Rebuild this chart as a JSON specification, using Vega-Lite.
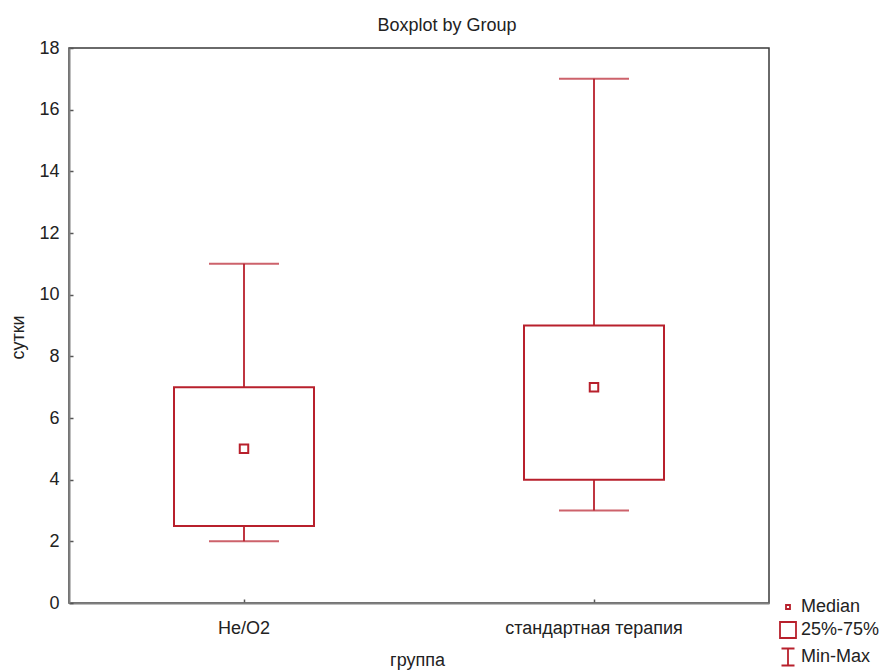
{
  "$schema": "https://vega.github.io/schema/vega-lite/v6.json",
  "autosize": {"type": "none"},
  "width": 700,
  "height": 555,
  "padding": {"left": 69, "top": 48, "right": 118, "bottom": 68},
  "background": "white",
  "title": {
    "text": "Boxplot by Group",
    "anchor": "middle",
    "frame": "group",
    "dx": 28,
    "offset": 4,
    "fontSize": 18,
    "fontWeight": "normal",
    "font": "Liberation Sans",
    "color": "#222222"
  },
  "config": {
    "font": "Liberation Sans",
    "view": {"stroke": "#3a3a3a", "strokeWidth": 1.5},
    "axis": {
      "labelFont": "Liberation Sans",
      "titleFont": "Liberation Sans",
      "labelFontSize": 18,
      "titleFontSize": 18,
      "titleFontWeight": "normal",
      "labelColor": "#222222",
      "titleColor": "#222222",
      "domainColor": "#7f7f7f",
      "domainWidth": 2,
      "tickColor": "#555555",
      "tickSize": -4,
      "tickWidth": 1.5,
      "grid": false
    },
    "legend": {
      "labelFont": "Liberation Sans",
      "labelFontSize": 18,
      "labelColor": "#222222"
    }
  },
  "data": {
    "values": [
      {"group": "He/O2", "min": 2, "q1": 2.5, "median": 5, "q3": 7, "max": 11},
      {"group": "стандартная терапия", "min": 3, "q1": 4, "median": 7, "q3": 9, "max": 17}
    ]
  },
  "encoding": {
    "x": {
      "field": "group",
      "type": "nominal",
      "sort": ["He/O2", "стандартная терапия"],
      "scale": {"paddingInner": 0, "paddingOuter": 0},
      "axis": {
        "title": "группа",
        "labelAngle": 0,
        "labelPadding": 20,
        "titleX": 348,
        "titleY": 57,
        "titleBaseline": "middle"
      }
    }
  },
  "layer": [
    {
      "mark": {"type": "rule", "color": "#b8202c", "strokeWidth": 1.8},
      "encoding": {
        "y": {
          "field": "q3",
          "type": "quantitative",
          "scale": {"domain": [0, 18], "nice": false},
          "axis": {
            "title": "сутки",
            "values": [0, 2, 4, 6, 8, 10, 12, 14, 16, 18],
            "labelPadding": 14,
            "titleAngle": -90,
            "titleX": -51,
            "titleY": 289,
            "titleBaseline": "middle",
            "titleAlign": "center"
          }
        },
        "y2": {"field": "max"}
      }
    },
    {
      "mark": {"type": "rule", "color": "#b8202c", "strokeWidth": 1.8},
      "encoding": {
        "y": {"field": "min", "type": "quantitative"},
        "y2": {"field": "q1"}
      }
    },
    {
      "mark": {"type": "tick", "color": "#b8202c", "orient": "horizontal", "size": 70, "thickness": 2},
      "encoding": {"y": {"field": "max", "type": "quantitative"}}
    },
    {
      "mark": {"type": "tick", "color": "#b8202c", "orient": "horizontal", "size": 70, "thickness": 2},
      "encoding": {"y": {"field": "min", "type": "quantitative"}}
    },
    {
      "mark": {
        "type": "bar",
        "fill": "white",
        "stroke": "#b8202c",
        "strokeWidth": 2,
        "width": {"band": 0.4}
      },
      "encoding": {
        "y": {"field": "q1", "type": "quantitative"},
        "y2": {"field": "q3"}
      }
    },
    {
      "mark": {
        "type": "point",
        "filled": false,
        "stroke": "#b8202c",
        "strokeWidth": 2,
        "size": 1800,
        "opacity": 1
      },
      "encoding": {
        "y": {"field": "median", "type": "quantitative"},
        "shape": {
          "datum": "Median",
          "type": "nominal",
          "scale": {
            "domain": ["Median", "25%-75%", "Min-Max"],
            "range": [
              "M-0.2,-0.2H0.2V0.2H-0.2Z",
              "M-0.8,-0.8H0.8V0.8H-0.8Z",
              "M-0.65,-0.85H0.65M0,-0.85V0.85M-0.65,0.85H0.65"
            ]
          },
          "legend": {
            "title": null,
            "orient": "none",
            "legendX": 708,
            "legendY": 548,
            "padding": 0,
            "symbolSize": 400,
            "symbolStrokeColor": "#b8202c",
            "symbolFillColor": "white",
            "symbolStrokeWidth": 1.8,
            "symbolOpacity": 1,
            "labelOffset": 2,
            "rowPadding": 2
          }
        }
      }
    }
  ]
}
